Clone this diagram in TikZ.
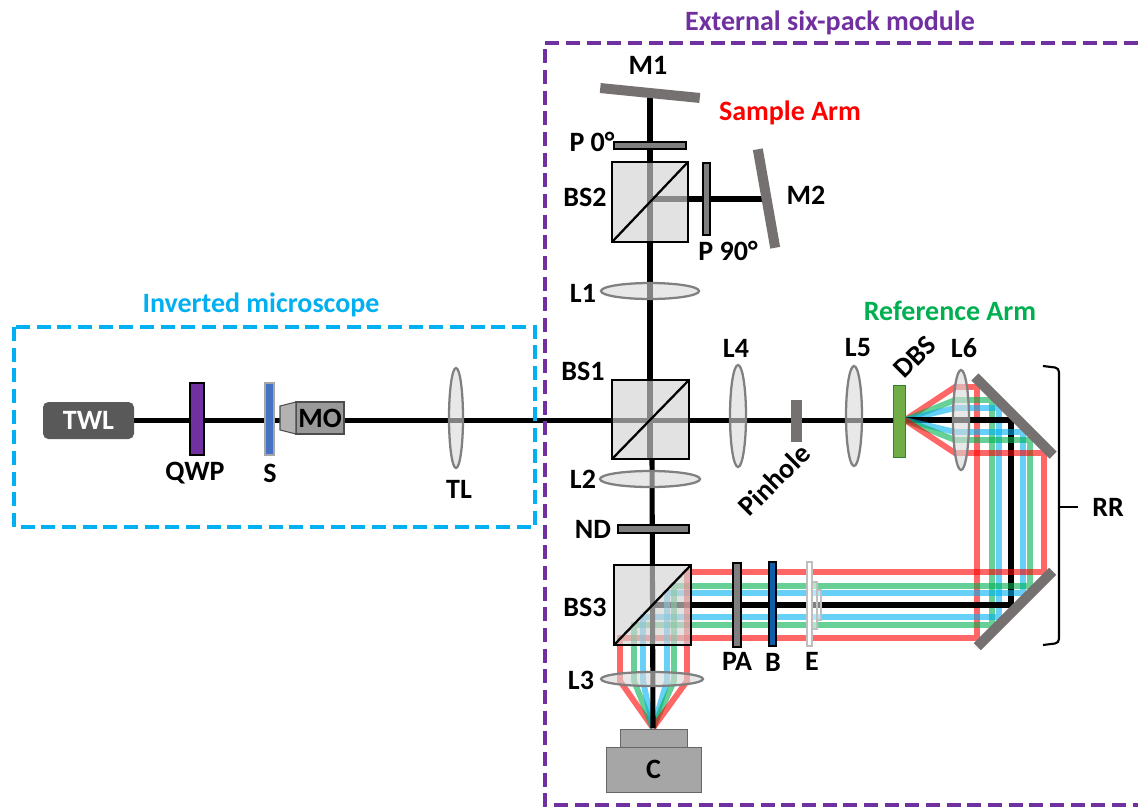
\documentclass[tikz,border=0pt]{standalone}
\usepackage{fontspec}
\setmainfont{Carlito}[BoldFont={Carlito Bold}]
\usetikzlibrary{calc,shapes.geometric}
\pgfdeclarelayer{beams}
\pgfsetlayers{beams,main}
\definecolor{cpurple}{HTML}{7030A0}
\definecolor{cblue}{HTML}{00B0F0}
\definecolor{cgreen}{HTML}{00B050}
\definecolor{grayop}{HTML}{7F7F7F}
\definecolor{mirrorgray}{HTML}{767171}
\tikzset{
  x=0.75pt,y=-0.75pt,
  lbl/.style={font=\bfseries\fontsize{21}{24}\selectfont,inner sep=0pt,text=black},
  title/.style={font=\bfseries\fontsize{21}{24}\selectfont,inner sep=0pt},
  box/.style={rectangle,inner sep=0pt,outer sep=0pt,line width=1.5pt},
  cube/.style={box,draw=black,fill=gray!35,fill opacity=.65,line width=1.7pt},
  lens/.style={ellipse,inner sep=0pt,outer sep=0pt,draw=gray,line width=1.7pt,fill=gray!30,fill opacity=.6},
  plate/.style={box,draw=black,fill=grayop,line width=1.3pt},
  mirror/.style={box,fill=mirrorgray,minimum height=7.5pt},
  diag/.style={draw=black,line width=1.7pt},
  axis/.style={draw=black,line width=3.8pt},
  rb/.style={draw=red,draw opacity=.6,line width=4.4pt,line join=miter},
  gb/.style={draw=cgreen,draw opacity=.6,line width=4.4pt,line join=miter},
  bb/.style={draw=cblue,draw opacity=.6,line width=4.4pt,line join=miter},
  dashbox/.style={line width=2.4pt,dash pattern=on 10.5pt off 5pt},
}
\newcommand{\pxbox}[6]{%
  \pgfmathsetmacro{\pxw}{(#4-#2)*0.75}%
  \pgfmathsetmacro{\pxh}{(#5-#3)*0.75}%
  \node[#6,minimum width=\pxw pt,minimum height=\pxh pt] (#1) at ({(#2+#4)/2},{(#3+#5)/2}) {};}
\newcommand{\pxlens}[5]{%
  \pgfmathsetmacro{\pxw}{2*#4*0.75}%
  \pgfmathsetmacro{\pxh}{2*#5*0.75}%
  \node[lens,minimum width=\pxw pt,minimum height=\pxh pt] (#1) at (#2,#3) {};}
\begin{document}
\begin{tikzpicture}
\useasboundingbox (0,0) rectangle (1138,808);
% dashed modules
\draw[dashbox,cblue] (14,327) rectangle (535,527);
\draw[dashbox,cpurple] (1138,43) -- (545,43) -- (545,805) -- (1138,805);
% cubes and optics
\pxbox{BSb}{612}{162}{688}{242}{cube}
\pxbox{BSa}{612}{380}{689}{459}{cube}
\pxbox{BSc}{614}{565}{691}{645}{cube}
\draw[diag] (BSb.south west) -- (BSb.north east);
\draw[diag] (BSa.south west) -- (BSa.north east);
\draw[diag] (BSc.south west) -- (BSc.north east);
\pxlens{Lone}{650}{291}{49}{8}
\pxlens{Ltwo}{650}{479}{50}{8}
\pxlens{Lthree}{652}{679}{51}{7}
\pxlens{Lfour}{738}{416}{8}{51}
\pxlens{Lfive}{854}{416}{8}{50}
\pxlens{Lsix}{961}{420}{8}{50}
\pxlens{TLl}{456}{418}{7}{50}
\pxbox{Pz}{614}{142}{686}{149}{plate}
\pxbox{Pn}{703}{163}{710}{235}{plate}
\pxbox{NDf}{618}{525}{689}{533}{plate}
\pxbox{PAp}{733}{563}{741}{647}{plate}
\pxbox{Bf}{769}{562}{776}{646}{plate,fill={rgb,255:red,15;green,95;blue,168}}
\pxbox{Ee}{807}{562}{812}{646}{box,draw=gray!50,fill=white}
\pxbox{Ef}{812}{582}{817}{629}{box,draw=gray!50,fill=white,fill opacity=.5}
\pxbox{Eg}{817}{590}{821}{620}{box,draw=gray!50,fill=white,fill opacity=.5}
\pxbox{Pin}{791}{400}{802}{442}{box,fill=mirrorgray}
\pxbox{DBSf}{893}{385}{905}{457}{box,draw=black!50!green!60!gray,line width=.5pt,fill={rgb,255:red,112;green,173;blue,71}}
% mirrors
\node[mirror,minimum width=75pt,rotate=-5.7] (Mone) at (650,93) {};
\node[mirror,minimum width=75pt,rotate=-80] (Mtwo) at (766.5,198.5) {};
\node[mirror,minimum width=83pt,rotate=-45] (MRa) at (1014,416) {};
\node[mirror,minimum width=80pt,rotate=45] (MRb) at (1015,609) {};
% source and objective
\pxbox{TWLb}{43}{402}{134}{439}{box,rounded corners=4pt,fill=black!65}
\node[lbl,text=white] at (TWLb) {TWL};
\pxbox{QWPp}{190}{383}{204}{455}{plate,fill=cpurple}
\pxbox{Ss}{265}{383}{274}{455}{box,draw=gray!70,line width=2pt,fill={rgb,255:red,68;green,114;blue,196}}
\pxbox{MOb}{296}{402}{344}{434}{box,draw=black!70,line width=.8pt,fill=gray!80}
\draw[draw=black!70,line width=.8pt,fill=gray!60] (MOb.north west) -- (280,406) -- (280,430) -- (MOb.south west) -- cycle;
\node[lbl] at (MOb) {MO};
% camera
\pxbox{Ca}{620}{729}{687}{747}{box,draw=black!60,line width=.6pt,fill=gray!70}
\pxbox{Cb}{606}{747}{701}{792}{box,draw=black!60,line width=.6pt,fill=gray!70}
\node[lbl] at (Cb) {C};
% bracket
\coordinate (brTop) at (1043,366);
\coordinate (brBot) at (1043,645);
\coordinate (brTip) at (1059,507);
\coordinate (brEnd) at (1078,507);
\draw[line width=1.6pt,rounded corners=3pt] (brTop) -- (1059,368) -- (1059,643) -- (brBot);
\draw[line width=1.6pt] (brTip) -- (brEnd);
% beams
\begin{pgfonlayer}{beams}
\coordinate (dbsOut) at (905,420);
\coordinate (focus) at (653,728);
\coordinate (armTop) at (650,459);
\coordinate (armLow) at (652,459);
\coordinate (bsbHit) at (650,199);
\coordinate (mtwoHit) at (764,199);
\draw[rb] (dbsOut) -- (955,387) -- (977,387) -- (977,638) -- (620,638) -- (620,681) -- (focus);
\draw[gb] (dbsOut) -- (955,400) -- (992,400) -- (992,625) -- (634,625) -- (634,681) -- (focus);
\draw[bb] (dbsOut) -- (955,408) -- (999,408) -- (999,617) -- (643,617) -- (643,681) -- (focus);
\draw[axis] (TWLb.east) -- (TWLb.east -| DBSf.west);
\draw[axis] (dbsOut) -- (1011,420) -- (1011,605) -- (653,605);
\draw[bb] (dbsOut) -- (955,432) -- (1023,432) -- (1023,593) -- (667,593) -- (667,681) -- (focus);
\draw[gb] (dbsOut) -- (955,440) -- (1030,440) -- (1030,586) -- (674,586) -- (674,681) -- (focus);
\draw[rb] (dbsOut) -- (955,453) -- (1044,453) -- (1044,572) -- (687,572) -- (687,681) -- (focus);
\draw[axis] (Mone.center) -- (armTop);
\draw[axis] (armLow) -- (focus);
\draw[axis] (bsbHit) -- (mtwoHit);
\end{pgfonlayer}
% labels
\node[title,text=cpurple] at (830,23) {External six-pack module};
\node[title,text=red] at (790,113) {Sample Arm};
\node[title,text=cblue] at (261,305) {Inverted microscope};
\node[title,text=cgreen] at (950,311) {Reference Arm};
\node[lbl] at (648,65) {M1};
\node[lbl] at (592,142) {P 0°};
\node[lbl] at (585,197) {BS2};
\node[lbl] at (806,195) {M2};
\node[lbl] at (728,251) {P 90°};
\node[lbl] at (583,293) {L1};
\node[lbl] at (736,348) {L4};
\node[lbl] at (858,348) {L5};
\node[lbl,rotate=45] at (915,357) {DBS};
\node[lbl] at (964,348) {L6};
\node[lbl] at (583,371) {BS1};
\node[lbl] at (583,479) {L2};
\node[lbl] at (593,529) {ND};
\node[lbl,rotate=45] at (774,480) {Pinhole};
\node[lbl] at (585,607) {BS3};
\node[lbl] at (737,661) {PA};
\node[lbl] at (773,662) {B};
\node[lbl] at (812,661) {E};
\node[lbl] at (581,680) {L3};
\node[lbl] at (195,473) {QWP};
\node[lbl] at (270,473) {S};
\node[lbl] at (459,489) {TL};
\node[lbl] at (1108,507) {RR};
\end{tikzpicture}
\end{document}
